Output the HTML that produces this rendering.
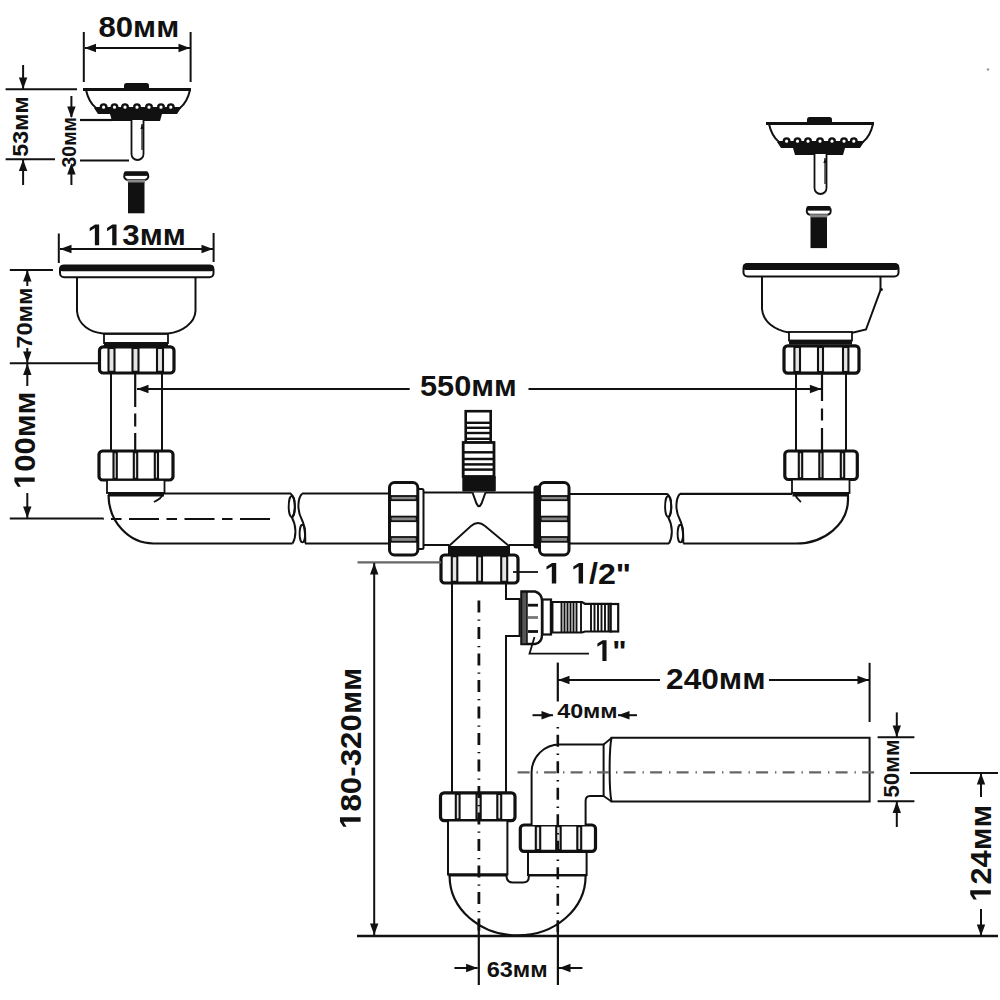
<!DOCTYPE html>
<html><head><meta charset="utf-8"><style>
html,body{margin:0;padding:0;background:#fff;overflow:hidden;}
svg{display:block;}
text{font-family:"Liberation Sans",sans-serif;fill:#111;}
</style></head><body>
<svg width="1000" height="1000" viewBox="0 0 1000 1000" stroke-linecap="butt">
<rect width="1000" height="1000" fill="#fff"/>
<g transform="translate(0,0)">
<path d="M86,90 C88,99 91,104 96,108 L180,108 C185,104 188,99 190,90" fill="none" stroke="#111" stroke-width="2" />
<path d="M94,108 L181,108 L177,114 L162,114 L160,121 L112,121 L110,114 L98,114 Z" fill="#111"/>
<circle cx="103.6" cy="107.2" r="2.8" fill="#fff" stroke="#111" stroke-width="2.4"/>
<circle cx="114.5" cy="107.2" r="2.8" fill="#fff" stroke="#111" stroke-width="2.4"/>
<circle cx="125" cy="107.2" r="2.8" fill="#fff" stroke="#111" stroke-width="2.4"/>
<circle cx="137" cy="107.2" r="2.8" fill="#fff" stroke="#111" stroke-width="2.4"/>
<circle cx="149" cy="107.2" r="2.8" fill="#fff" stroke="#111" stroke-width="2.4"/>
<circle cx="161" cy="107.2" r="2.8" fill="#fff" stroke="#111" stroke-width="2.4"/>
<circle cx="170.8" cy="107.2" r="2.8" fill="#fff" stroke="#111" stroke-width="2.4"/>
<line x1="83" y1="89.5" x2="191" y2="89.5" stroke="#111" stroke-width="3" />
<rect x="124" y="83" width="25" height="8" rx="2.5" fill="#111"/>
<path d="M131.5,120 L131.5,154 A6,6 0 0 0 143.5,154 L143.5,120" fill="#fff" stroke="#111" stroke-width="1.8"/>
<line x1="142" y1="124" x2="142" y2="150" stroke="#111" stroke-width="1.2" />
<path d="M142,124 l-1.6,5 l3.2,0 Z" fill="#111"/>
</g>
<g transform="translate(683,34)">
<path d="M86,90 C88,99 91,104 96,108 L180,108 C185,104 188,99 190,90" fill="none" stroke="#111" stroke-width="2" />
<path d="M94,108 L181,108 L177,114 L162,114 L160,121 L112,121 L110,114 L98,114 Z" fill="#111"/>
<circle cx="103.6" cy="107.2" r="2.8" fill="#fff" stroke="#111" stroke-width="2.4"/>
<circle cx="114.5" cy="107.2" r="2.8" fill="#fff" stroke="#111" stroke-width="2.4"/>
<circle cx="125" cy="107.2" r="2.8" fill="#fff" stroke="#111" stroke-width="2.4"/>
<circle cx="137" cy="107.2" r="2.8" fill="#fff" stroke="#111" stroke-width="2.4"/>
<circle cx="149" cy="107.2" r="2.8" fill="#fff" stroke="#111" stroke-width="2.4"/>
<circle cx="161" cy="107.2" r="2.8" fill="#fff" stroke="#111" stroke-width="2.4"/>
<circle cx="170.8" cy="107.2" r="2.8" fill="#fff" stroke="#111" stroke-width="2.4"/>
<line x1="83" y1="89.5" x2="191" y2="89.5" stroke="#111" stroke-width="3" />
<rect x="124" y="83" width="25" height="8" rx="2.5" fill="#111"/>
<path d="M131.5,120 L131.5,154 A6,6 0 0 0 143.5,154 L143.5,120" fill="#fff" stroke="#111" stroke-width="1.8"/>
<line x1="142" y1="124" x2="142" y2="150" stroke="#111" stroke-width="1.2" />
<path d="M142,124 l-1.6,5 l3.2,0 Z" fill="#111"/>
</g>
<g transform="translate(0,0)">
<path d="M124.5,174.5 Q123.3,179 127.5,180 L145,180 Q149.2,179 148,174.5 Z" fill="#fff" stroke="#111" stroke-width="2"/>
<rect x="123.8" y="171.3" width="24.6" height="4.4" rx="2" fill="#111"/>
<path d="M127,179.5 L145.5,179.5 L144.6,183 L128,183 Z" fill="#888"/>
<rect x="128" y="182.5" width="16.5" height="30.8" fill="#111"/>
</g>
<g transform="translate(682.5,34.8)">
<path d="M124.5,174.5 Q123.3,179 127.5,180 L145,180 Q149.2,179 148,174.5 Z" fill="#fff" stroke="#111" stroke-width="2"/>
<rect x="123.8" y="171.3" width="24.6" height="4.4" rx="2" fill="#111"/>
<path d="M127,179.5 L145.5,179.5 L144.6,183 L128,183 Z" fill="#888"/>
<rect x="128" y="182.5" width="16.5" height="30.8" fill="#111"/>
</g>
<rect x="60" y="265.5" width="153.5" height="11.8" rx="4" fill="#fff" stroke="#111" stroke-width="2"/>
<rect x="59.5" y="265" width="154.5" height="6.3" rx="3" fill="#111"/>
<path d="M77,278 L77,311 C78,325 90,332 103,333.5 L168,333.5 C182,332 195,323 195.5,311 L195.5,278" fill="none" stroke="#111" stroke-width="2" />
<rect x="104" y="334" width="64" height="9" fill="#fff" stroke="#111" stroke-width="1.8"/>
<rect x="104" y="342" width="64" height="4.5" fill="#111"/>
<rect x="99.5" y="346.8" width="74.5" height="26.19999999999999" rx="3.6" fill="#fff" stroke="#111" stroke-width="3.2"/>
<rect x="108.5" y="348.0" width="6.0" height="23.79999999999999" fill="#e4e4e4" stroke="#111" stroke-width="2.1"/>
<rect x="132.5" y="348.0" width="6.0" height="23.79999999999999" fill="#e4e4e4" stroke="#111" stroke-width="2.1"/>
<rect x="157" y="348.0" width="6" height="23.79999999999999" fill="#e4e4e4" stroke="#111" stroke-width="2.1"/>
<line x1="111" y1="373" x2="111" y2="451" stroke="#111" stroke-width="2" />
<line x1="162" y1="373" x2="162" y2="451" stroke="#111" stroke-width="2" />
<rect x="99" y="451" width="74" height="29" rx="3.6" fill="#fff" stroke="#111" stroke-width="3.2"/>
<rect x="113.5" y="452.2" width="3.299999999999997" height="26.6" fill="#e4e4e4" stroke="#111" stroke-width="2.1"/>
<rect x="133.8" y="452.2" width="3.3999999999999773" height="26.6" fill="#e4e4e4" stroke="#111" stroke-width="2.1"/>
<rect x="154.8" y="452.2" width="3.1999999999999886" height="26.6" fill="#e4e4e4" stroke="#111" stroke-width="2.1"/>
<rect x="107" y="480" width="57.5" height="13" fill="#fff" stroke="#111" stroke-width="1.8"/>
<rect x="108" y="492" width="56" height="4.5" fill="#111"/>
<path d="M108.5,495 A45,49 0 0 0 153.5,543.5 L292.6,543.5" fill="none" stroke="#111" stroke-width="2.2" />
<path d="M163,494 C162,498 158,500 154,502" fill="none" stroke="#111" stroke-width="1.8" />
<line x1="163" y1="493.5" x2="291" y2="493.5" stroke="#111" stroke-width="2.2" />
<rect x="743.5" y="264" width="155" height="12.5" rx="4" fill="#fff" stroke="#111" stroke-width="2"/>
<rect x="743" y="263.5" width="156" height="6.5" rx="3" fill="#111"/>
<path d="M762,276 L762,309 C763,322 775,330 789,332.5 L853.5,332.5 L866,329.5 L880.5,290 L880.5,276" fill="none" stroke="#111" stroke-width="2" />
<circle cx="881.3" cy="289.5" r="1.6" fill="#111"/>
<rect x="789" y="332" width="63" height="8.5" fill="#fff" stroke="#111" stroke-width="1.8"/>
<rect x="789" y="340" width="63" height="4.5" fill="#111"/>
<rect x="784" y="345.8" width="75" height="27.399999999999977" rx="3.6" fill="#fff" stroke="#111" stroke-width="3.2"/>
<rect x="794.4" y="347.0" width="5.600000000000023" height="24.99999999999998" fill="#e4e4e4" stroke="#111" stroke-width="2.1"/>
<rect x="818" y="347.0" width="5" height="24.99999999999998" fill="#e4e4e4" stroke="#111" stroke-width="2.1"/>
<rect x="843" y="347.0" width="5.399999999999977" height="24.99999999999998" fill="#e4e4e4" stroke="#111" stroke-width="2.1"/>
<line x1="796" y1="373" x2="796" y2="451" stroke="#111" stroke-width="2" />
<line x1="846" y1="373" x2="846" y2="451" stroke="#111" stroke-width="2" />
<rect x="784.8" y="451" width="72.5" height="28.5" rx="3.6" fill="#fff" stroke="#111" stroke-width="3.2"/>
<rect x="798.8" y="452.2" width="3.400000000000091" height="26.1" fill="#e4e4e4" stroke="#111" stroke-width="2.1"/>
<rect x="819.3" y="452.2" width="3.300000000000068" height="26.1" fill="#e4e4e4" stroke="#111" stroke-width="2.1"/>
<rect x="840.8" y="452.2" width="3.400000000000091" height="26.1" fill="#e4e4e4" stroke="#111" stroke-width="2.1"/>
<rect x="792" y="479.5" width="57.5" height="13.5" fill="#fff" stroke="#111" stroke-width="1.8"/>
<rect x="792.5" y="492" width="56.5" height="4.5" fill="#111"/>
<path d="M848,496 L848,500 A52,44 0 0 1 796,543.5 L683.2,543.5" fill="none" stroke="#111" stroke-width="2.2" />
<path d="M795,494 C796,498 799,500 801,502" fill="none" stroke="#111" stroke-width="1.8" />
<line x1="680" y1="493.8" x2="792" y2="493.8" stroke="#111" stroke-width="2.2" />
<path d="M290.8,493.8 C295.6,498 296.1,512 292.1,518 C295.6,524 297.1,536 292.6,543.4" fill="none" stroke="#111" stroke-width="2" />
<ellipse cx="291.8" cy="506.5" rx="3.1" ry="10.5" fill="none" stroke="#111" stroke-width="1.9"/>
<path d="M302,493.8 C298,498 296.5,510 302,520 C305,526 305.5,538 305.2,543.4" fill="none" stroke="#111" stroke-width="2" />
<ellipse cx="302.4" cy="533.6" rx="2.8" ry="8.8" fill="none" stroke="#111" stroke-width="1.9"/>
<path d="M667.2,493.8 C672.0,498 672.5,512 668.5,518 C672.0,524 673.5,536 669.0,543.4" fill="none" stroke="#111" stroke-width="2" />
<ellipse cx="668.2" cy="506.5" rx="3.1" ry="10.5" fill="none" stroke="#111" stroke-width="1.9"/>
<path d="M680,493.8 C676,498 674.5,510 680,520 C683,526 683.5,538 683.2,543.4" fill="none" stroke="#111" stroke-width="2" />
<ellipse cx="680.4" cy="533.6" rx="2.8" ry="8.8" fill="none" stroke="#111" stroke-width="1.9"/>
<line x1="302" y1="493.5" x2="390" y2="493.5" stroke="#111" stroke-width="2.2" />
<line x1="305" y1="543.5" x2="390" y2="543.5" stroke="#111" stroke-width="2.2" />
<line x1="568" y1="494" x2="667.5" y2="494" stroke="#111" stroke-width="2.2" />
<line x1="568" y1="543.5" x2="669" y2="543.5" stroke="#111" stroke-width="2.2" />
<line x1="423" y1="492.5" x2="534" y2="492.5" stroke="#111" stroke-width="2" />
<line x1="423" y1="545" x2="449" y2="545" stroke="#111" stroke-width="2" />
<line x1="509" y1="545" x2="534" y2="545" stroke="#111" stroke-width="2" />
<path d="M449,546 L471,526 Q478,520 485,526 L509,546" fill="none" stroke="#111" stroke-width="1.8" />
<rect x="448" y="546" width="62" height="8.5" fill="#111"/>
<rect x="417" y="489" width="6.5" height="60" rx="1.5" fill="#fff" stroke="#111" stroke-width="2"/>
<rect x="389.5" y="482.5" width="28.30000000000001" height="72.5" rx="5" fill="#fff" stroke="#111" stroke-width="3"/>
<rect x="390.7" y="496" width="25.900000000000013" height="4.199999999999989" fill="#888" stroke="#111" stroke-width="1.8"/>
<rect x="390.7" y="516.6" width="25.900000000000013" height="4.600000000000023" fill="#888" stroke="#111" stroke-width="1.8"/>
<rect x="390.7" y="537" width="25.900000000000013" height="4.7999999999999545" fill="#888" stroke="#111" stroke-width="1.8"/>
<rect x="533.5" y="485.5" width="7" height="63" rx="2.5" fill="#111"/>
<rect x="539.5" y="482.5" width="29.5" height="72.5" rx="5" fill="#fff" stroke="#111" stroke-width="3"/>
<rect x="540.7" y="496" width="27.1" height="4.199999999999989" fill="#888" stroke="#111" stroke-width="1.8"/>
<rect x="540.7" y="516.6" width="27.1" height="4.600000000000023" fill="#888" stroke="#111" stroke-width="1.8"/>
<rect x="540.7" y="537" width="27.1" height="4.7999999999999545" fill="#888" stroke="#111" stroke-width="1.8"/>
<rect x="465.7" y="411.2" width="25" height="31.5" fill="#fff" stroke="#111" stroke-width="2.6"/>
<line x1="466" y1="422.8" x2="490" y2="422.8" stroke="#111" stroke-width="2.4" />
<line x1="466" y1="427.8" x2="490" y2="427.8" stroke="#111" stroke-width="2.4" />
<line x1="466" y1="433" x2="490" y2="433" stroke="#111" stroke-width="2.4" />
<line x1="466" y1="438.8" x2="490" y2="438.8" stroke="#111" stroke-width="2.4" />
<rect x="463.2" y="442.5" width="30.8" height="34" fill="#fff" stroke="#111" stroke-width="2.8"/>
<line x1="463.5" y1="452.3" x2="493.5" y2="452.3" stroke="#111" stroke-width="2.5" />
<line x1="463.5" y1="459" x2="493.5" y2="459" stroke="#111" stroke-width="2.5" />
<line x1="463.5" y1="464.4" x2="493.5" y2="464.4" stroke="#111" stroke-width="2.5" />
<line x1="463.5" y1="469.6" x2="493.5" y2="469.6" stroke="#111" stroke-width="2.5" />
<rect x="462.3" y="476" width="33.5" height="15.5" rx="1" fill="#111"/>
<path d="M472.5,492.5 L476.5,503.5 Q479,509 481.5,503.5 L485.5,492.5" fill="#fff" stroke="#111" stroke-width="2" />
<rect x="441" y="555" width="77" height="28" rx="3.6" fill="#fff" stroke="#111" stroke-width="3.2"/>
<rect x="451.8" y="556.2" width="5.5" height="25.6" fill="#e4e4e4" stroke="#111" stroke-width="2.1"/>
<rect x="477.2" y="556.2" width="4.800000000000011" height="25.6" fill="#e4e4e4" stroke="#111" stroke-width="2.1"/>
<rect x="501.2" y="556.2" width="6.0" height="25.6" fill="#e4e4e4" stroke="#111" stroke-width="2.1"/>
<line x1="452" y1="583" x2="452" y2="793" stroke="#111" stroke-width="2" />
<path d="M506,583 L506,599 L519.6,599 L519.6,636 L506,636 L506,793" fill="none" stroke="#111" stroke-width="2" />
<path d="M521.5,591.5 L535,591.5 C540,593 542,597 542,601 L542,635 C542,640 540,643 535,644 L521.5,644 Z" fill="#fff" stroke="#111" stroke-width="2.4"/>
<rect x="521.5" y="592" width="5.5" height="52" fill="#555" stroke="#111" stroke-width="1.5"/>
<line x1="528" y1="605.2" x2="538" y2="605.2" stroke="#111" stroke-width="2.8" />
<line x1="528" y1="617.5" x2="538" y2="617.5" stroke="#777" stroke-width="2.8" />
<line x1="528" y1="631.5" x2="538" y2="631.5" stroke="#111" stroke-width="2.8" />
<rect x="542.5" y="599.5" width="8.5" height="35" fill="#fff" stroke="#111" stroke-width="2.2"/>
<path d="M551,602 L582,602 L585,603.8 L610.7,603.8 L610.7,631.5 L585,631.5 L582,632.5 L551,632.5 Z" fill="#fff" stroke="#111" stroke-width="2.2"/>
<rect x="610.7" y="604" width="7.5" height="27.5" fill="#fff" stroke="#111" stroke-width="2.2"/>
<line x1="552.5" y1="603" x2="552.5" y2="632" stroke="#111" stroke-width="1.9" />
<line x1="561.5" y1="603" x2="561.5" y2="632" stroke="#111" stroke-width="1.9" />
<line x1="564.5" y1="603" x2="564.5" y2="632" stroke="#111" stroke-width="1.9" />
<line x1="567.5" y1="603" x2="567.5" y2="632" stroke="#111" stroke-width="1.9" />
<line x1="570.5" y1="603" x2="570.5" y2="632" stroke="#111" stroke-width="1.9" />
<line x1="573.5" y1="603" x2="573.5" y2="632" stroke="#111" stroke-width="1.9" />
<line x1="576.5" y1="603" x2="576.5" y2="632" stroke="#111" stroke-width="1.9" />
<line x1="581" y1="603" x2="581" y2="632" stroke="#111" stroke-width="1.9" />
<line x1="591" y1="603" x2="591" y2="632" stroke="#111" stroke-width="1.9" />
<line x1="594.5" y1="603" x2="594.5" y2="632" stroke="#111" stroke-width="1.9" />
<line x1="598" y1="603" x2="598" y2="632" stroke="#111" stroke-width="1.9" />
<line x1="601.5" y1="603" x2="601.5" y2="632" stroke="#111" stroke-width="1.9" />
<line x1="605" y1="603" x2="605" y2="632" stroke="#111" stroke-width="1.9" />
<line x1="608.5" y1="603" x2="608.5" y2="632" stroke="#111" stroke-width="1.9" />
<path d="M534.5,637 L529.5,653.7 L589,653.7" fill="none" stroke="#111" stroke-width="1.8" />
<line x1="513" y1="572" x2="538" y2="572" stroke="#111" stroke-width="1.8" />
<rect x="440.5" y="792.8" width="74.5" height="27.800000000000068" rx="3.6" fill="#fff" stroke="#111" stroke-width="3.2"/>
<rect x="455.8" y="794.0" width="3.8000000000000114" height="25.40000000000007" fill="#e4e4e4" stroke="#111" stroke-width="2.1"/>
<rect x="476.5" y="794.0" width="4.199999999999989" height="25.40000000000007" fill="#e4e4e4" stroke="#111" stroke-width="2.1"/>
<rect x="497.3" y="794.0" width="3.8999999999999773" height="25.40000000000007" fill="#e4e4e4" stroke="#111" stroke-width="2.1"/>
<rect x="448" y="820.5" width="59.4" height="54" fill="#fff" stroke="#111" stroke-width="2"/>
<path d="M449.6,875 L449.6,876 A68,59.5 0 0 0 585.6,876 L585.6,875" fill="none" stroke="#111" stroke-width="2.2" />
<line x1="448.5" y1="875" x2="507" y2="875" stroke="#111" stroke-width="3" />
<line x1="528" y1="875" x2="586.5" y2="875" stroke="#111" stroke-width="3" />
<path d="M506.6,874 L506.6,877 Q507,882.5 513,882.5 L523,882.5 Q528.8,882.5 528.8,877 L528.8,874" fill="none" stroke="#111" stroke-width="2" />
<rect x="528" y="851" width="58.6" height="24" fill="#fff" stroke="#111" stroke-width="2"/>
<rect x="520.3" y="825" width="75.20000000000005" height="26.299999999999955" rx="3.6" fill="#fff" stroke="#111" stroke-width="3.2"/>
<rect x="535.8" y="826.2" width="4.400000000000091" height="23.899999999999956" fill="#e4e4e4" stroke="#111" stroke-width="2.1"/>
<rect x="556.2" y="826.2" width="4.5" height="23.899999999999956" fill="#e4e4e4" stroke="#111" stroke-width="2.1"/>
<rect x="577.3" y="826.2" width="3.900000000000091" height="23.899999999999956" fill="#e4e4e4" stroke="#111" stroke-width="2.1"/>
<path d="M531.6,825 L531.6,772 A28,28 0 0 1 560,744.5 L603.6,744.5 L603.6,796 L590,796 Q585.6,796 585.6,801 L585.6,825" fill="#fff" stroke="#111" stroke-width="2" />
<path d="M603.6,744.5 L611.5,738 M603.6,796 L611.5,801.5" fill="none" stroke="#111" stroke-width="1.8" />
<path d="M611.5,737.7 L869.6,737.7 L869.6,801.4 L611.5,801.4 C609,790 609,750 611.5,737.7 Z" fill="#fff" stroke="#111" stroke-width="2"/>
<line x1="103" y1="519" x2="271" y2="519" stroke="#111" stroke-width="2.2" stroke-dasharray="30 7.5 10.5 7.5" stroke-dashoffset="-26"/>
<line x1="135.2" y1="373" x2="135.2" y2="451" stroke="#111" stroke-width="2.2" stroke-dasharray="34 6.5 13 6.5 40"/>
<line x1="822" y1="373" x2="822" y2="451" stroke="#111" stroke-width="2.2" stroke-dasharray="28 7.5 12 7.5 40"/>
<line x1="478.9" y1="600.5" x2="478.9" y2="936" stroke="#111" stroke-width="2.8" stroke-dasharray="12 6.9 1.4 6.2"/>
<line x1="557.8" y1="727.1" x2="557.8" y2="936" stroke="#111" stroke-width="2.6" stroke-dasharray="12 6.9 1.4 6.2" stroke-dashoffset="18.9"/>
<line x1="517.6" y1="772.4" x2="875" y2="772.4" stroke="#666" stroke-width="2.2" stroke-dasharray="12 6.9 1.4 6.2"/>
<line x1="83.8" y1="32" x2="83.8" y2="82" stroke="#111" stroke-width="2" />
<line x1="190.6" y1="32" x2="190.6" y2="82" stroke="#111" stroke-width="2" />
<line x1="85" y1="48" x2="190" y2="48" stroke="#111" stroke-width="2" />
<path d="M84.5,48 L96.0,43.8 L96.0,52.2 Z" fill="#111"/>
<path d="M190,48 L178.5,52.2 L178.5,43.8 Z" fill="#111"/>
<g transform="translate(98.51,37)"><text x="0" y="0" font-size="29.3" font-weight="bold" textLength="80.66" lengthAdjust="spacingAndGlyphs">80мм</text></g>
<line x1="5.6" y1="89.3" x2="77" y2="89.3" stroke="#111" stroke-width="2" />
<line x1="5.6" y1="159.3" x2="55" y2="159.3" stroke="#111" stroke-width="2" />
<line x1="23.1" y1="65" x2="23.1" y2="89" stroke="#111" stroke-width="2" />
<path d="M23.1,89 L18.9,77.5 L27.3,77.5 Z" fill="#111"/>
<line x1="23.1" y1="159.5" x2="23.1" y2="185" stroke="#111" stroke-width="2" />
<path d="M23.1,159.5 L27.3,171.0 L18.9,171.0 Z" fill="#111"/>
<g transform="translate(28,156.72) rotate(-90)"><text x="0" y="0" font-size="21.6" font-weight="bold" textLength="60.34" lengthAdjust="spacingAndGlyphs">53мм</text></g>
<line x1="80" y1="120" x2="112" y2="120" stroke="#111" stroke-width="2.2" />
<line x1="80" y1="160.5" x2="129" y2="160.5" stroke="#111" stroke-width="2.2" />
<line x1="71.4" y1="96" x2="71.4" y2="117" stroke="#111" stroke-width="2" />
<path d="M71.4,118 L67.2,106.5 L75.6,106.5 Z" fill="#111"/>
<line x1="71.4" y1="166" x2="71.4" y2="185" stroke="#111" stroke-width="2" />
<path d="M71.4,163 L75.6,174.5 L67.2,174.5 Z" fill="#111"/>
<g transform="translate(76,167.45) rotate(-90)"><text x="0" y="0" font-size="20.3" font-weight="bold" textLength="50.30" lengthAdjust="spacingAndGlyphs">30мм</text></g>
<line x1="58.8" y1="233.5" x2="58.8" y2="263" stroke="#111" stroke-width="2" />
<line x1="213.6" y1="233" x2="213.6" y2="262" stroke="#111" stroke-width="2" />
<line x1="60" y1="249" x2="213" y2="249" stroke="#111" stroke-width="2" />
<path d="M60,249 L71.5,244.8 L71.5,253.2 Z" fill="#111"/>
<path d="M213,249 L201.5,253.2 L201.5,244.8 Z" fill="#111"/>
<g transform="translate(87.57,245.2)"><text x="0" y="0" font-size="30" font-weight="bold" textLength="98.32" lengthAdjust="spacingAndGlyphs">  3мм</text><path transform="translate(0.00,0) scale(0.01525,-0.01465)" d="M478,0 L478,1170 L140,959 L140,1180 L493,1409 L759,1409 L759,0 Z" fill="#111"/><path transform="translate(17.37,0) scale(0.01525,-0.01465)" d="M478,0 L478,1170 L140,959 L140,1180 L493,1409 L759,1409 L759,0 Z" fill="#111"/></g>
<line x1="9.8" y1="270" x2="53" y2="270" stroke="#111" stroke-width="2" />
<line x1="9.8" y1="363.3" x2="99" y2="363.3" stroke="#111" stroke-width="2" />
<line x1="27.3" y1="270" x2="27.3" y2="286" stroke="#111" stroke-width="2" />
<path d="M27.3,270 L31.5,281.5 L23.1,281.5 Z" fill="#111"/>
<line x1="27.3" y1="348" x2="27.3" y2="363" stroke="#111" stroke-width="2" />
<path d="M27.3,363 L23.1,351.5 L31.5,351.5 Z" fill="#111"/>
<g transform="translate(31.8,348.61) rotate(-90)"><text x="0" y="0" font-size="21.5" font-weight="bold" textLength="61.06" lengthAdjust="spacingAndGlyphs">70мм</text></g>
<line x1="27.3" y1="363" x2="27.3" y2="386" stroke="#111" stroke-width="2" />
<path d="M27.3,363.5 L31.5,375.0 L23.1,375.0 Z" fill="#111"/>
<line x1="27.3" y1="493" x2="27.3" y2="518" stroke="#111" stroke-width="2" />
<path d="M27.3,518 L23.1,506.5 L31.5,506.5 Z" fill="#111"/>
<line x1="9.8" y1="518.5" x2="103.6" y2="518.5" stroke="#111" stroke-width="2.2" />
<g transform="translate(34.7,488.91) rotate(-90)"><text x="0" y="0" font-size="29.5" font-weight="bold" textLength="97.27" lengthAdjust="spacingAndGlyphs"> 00мм</text><path transform="translate(0.00,0) scale(0.01509,-0.01440)" d="M478,0 L478,1170 L140,959 L140,1180 L493,1409 L759,1409 L759,0 Z" fill="#111"/></g>
<line x1="137" y1="389" x2="409.7" y2="389" stroke="#111" stroke-width="2" />
<line x1="528.5" y1="389" x2="821.4" y2="389" stroke="#111" stroke-width="2" />
<path d="M137,389 L148.5,384.8 L148.5,393.2 Z" fill="#111"/>
<path d="M821.4,389 L809.9,393.2 L809.9,384.8 Z" fill="#111"/>
<g transform="translate(419.95,396.4)"><text x="0" y="0" font-size="30" font-weight="bold" textLength="96.79" lengthAdjust="spacingAndGlyphs">550мм</text></g>
<g transform="translate(544.30,583.5)"><text x="0" y="0" font-size="29.7" font-weight="bold" textLength="86.82" lengthAdjust="spacingAndGlyphs">   /2"</text><path transform="translate(0.00,0) scale(0.01571,-0.01450)" d="M478,0 L478,1170 L140,959 L140,1180 L493,1409 L759,1409 L759,0 Z" fill="#111"/><path transform="translate(26.83,0) scale(0.01571,-0.01450)" d="M478,0 L478,1170 L140,959 L140,1180 L493,1409 L759,1409 L759,0 Z" fill="#111"/></g>
<g transform="translate(595.33,660.9)"><text x="0" y="0" font-size="30" font-weight="bold" textLength="31.16" lengthAdjust="spacingAndGlyphs"> "</text><path transform="translate(0.00,0) scale(0.01477,-0.01465)" d="M478,0 L478,1170 L140,959 L140,1180 L493,1409 L759,1409 L759,0 Z" fill="#111"/></g>
<line x1="357.5" y1="562.4" x2="441" y2="562.4" stroke="#666" stroke-width="2.2" />
<line x1="374.2" y1="563" x2="374.2" y2="935" stroke="#111" stroke-width="2" />
<path d="M374.2,563 L378.4,574.5 L370.0,574.5 Z" fill="#111"/>
<path d="M374.2,935 L370.0,923.5 L378.4,923.5 Z" fill="#111"/>
<g transform="translate(360.6,828.94) rotate(-90)"><text x="0" y="0" font-size="30" font-weight="bold" textLength="161.12" lengthAdjust="spacingAndGlyphs"> 80-320мм</text><path transform="translate(0.00,0) scale(0.01528,-0.01465)" d="M478,0 L478,1170 L140,959 L140,1180 L493,1409 L759,1409 L759,0 Z" fill="#111"/></g>
<circle cx="988" cy="69.5" r="1.3" fill="#999"/>
<line x1="357" y1="936" x2="998" y2="936" stroke="#111" stroke-width="2.4" />
<line x1="478.8" y1="921" x2="478.8" y2="985" stroke="#111" stroke-width="2.2" />
<line x1="557.9" y1="925" x2="557.9" y2="985" stroke="#111" stroke-width="2.2" />
<line x1="454.4" y1="968" x2="477.6" y2="968" stroke="#111" stroke-width="2" />
<path d="M477.6,968 L466.1,972.2 L466.1,963.8 Z" fill="#111"/>
<line x1="559" y1="968" x2="582.4" y2="968" stroke="#111" stroke-width="2" />
<path d="M559,968 L570.5,963.8 L570.5,972.2 Z" fill="#111"/>
<g transform="translate(486.64,976.75)"><text x="0" y="0" font-size="22.3" font-weight="bold" textLength="61.01" lengthAdjust="spacingAndGlyphs">63мм</text></g>
<line x1="532.5" y1="715.2" x2="553" y2="715.2" stroke="#111" stroke-width="2" />
<path d="M553,715.2 L541.5,719.4 L541.5,711.0 Z" fill="#111"/>
<line x1="618" y1="715.2" x2="637" y2="715.2" stroke="#111" stroke-width="2" />
<path d="M618,715.2 L629.5,711.0 L629.5,719.4 Z" fill="#111"/>
<g transform="translate(557.15,718)"><text x="0" y="0" font-size="20.8" font-weight="bold" textLength="60.48" lengthAdjust="spacingAndGlyphs">40мм</text></g>
<line x1="557.8" y1="662.6" x2="557.8" y2="701.5" stroke="#111" stroke-width="2.2" />
<line x1="869.6" y1="662.8" x2="869.6" y2="722" stroke="#111" stroke-width="2" />
<line x1="558" y1="680" x2="660" y2="680" stroke="#111" stroke-width="2" />
<path d="M558,680 L569.5,675.8 L569.5,684.2 Z" fill="#111"/>
<line x1="769" y1="680" x2="869" y2="680" stroke="#111" stroke-width="2" />
<path d="M869,680 L857.5,684.2 L857.5,675.8 Z" fill="#111"/>
<g transform="translate(666.10,688.7)"><text x="0" y="0" font-size="30.4" font-weight="bold" textLength="99.50" lengthAdjust="spacingAndGlyphs">240мм</text></g>
<line x1="877.6" y1="737.2" x2="914.4" y2="737.2" stroke="#111" stroke-width="2" />
<line x1="877.6" y1="801.2" x2="914.4" y2="801.2" stroke="#111" stroke-width="2" />
<line x1="896.8" y1="712.4" x2="896.8" y2="737" stroke="#111" stroke-width="2" />
<path d="M896.8,737 L892.6,725.5 L901.0,725.5 Z" fill="#111"/>
<line x1="896.8" y1="801.5" x2="896.8" y2="827" stroke="#111" stroke-width="2" />
<path d="M896.8,801.5 L901.0,813.0 L892.6,813.0 Z" fill="#111"/>
<g transform="translate(899,797.69) rotate(-90)"><text x="0" y="0" font-size="22.3" font-weight="bold" textLength="58.37" lengthAdjust="spacingAndGlyphs">50мм</text></g>
<line x1="910" y1="773" x2="998" y2="773" stroke="#111" stroke-width="2.2" />
<line x1="981" y1="773" x2="981" y2="797" stroke="#111" stroke-width="2" />
<path d="M981,773 L985.2,784.5 L976.8,784.5 Z" fill="#111"/>
<line x1="981" y1="909" x2="981" y2="936" stroke="#111" stroke-width="2" />
<path d="M981,936 L976.8,924.5 L985.2,924.5 Z" fill="#111"/>
<g transform="translate(990.8,901.60) rotate(-90)"><text x="0" y="0" font-size="29.9" font-weight="bold" textLength="96.75" lengthAdjust="spacingAndGlyphs"> 24мм</text><path transform="translate(0.00,0) scale(0.01501,-0.01460)" d="M478,0 L478,1170 L140,959 L140,1180 L493,1409 L759,1409 L759,0 Z" fill="#111"/></g>
</svg>
</body></html>
